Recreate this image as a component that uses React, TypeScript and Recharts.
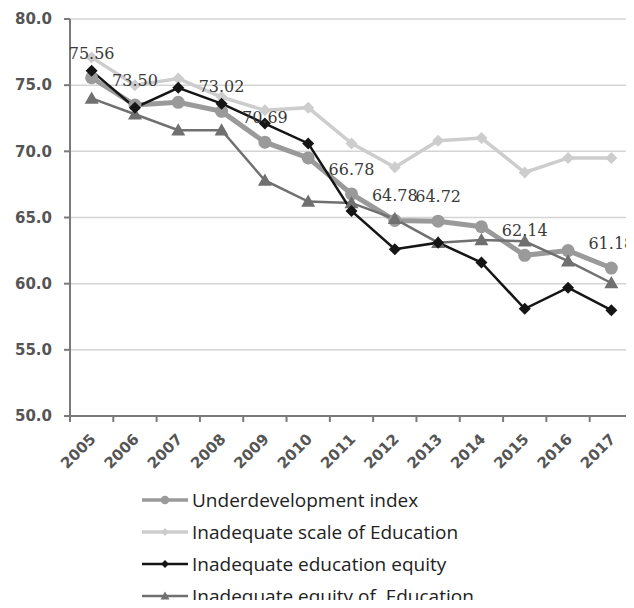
import React from 'react'
import {
  LineChart,
  Line,
  XAxis,
  YAxis,
  CartesianGrid,
  Legend,
  LabelList,
} from 'recharts'

const years = ['2005', '2006', '2007', '2008', '2009', '2010', '2011', '2012', '2013', '2014', '2015', '2016', '2017']
const underdevelopment = [75.56, 73.5, 73.7, 73.02, 70.69, 69.5, 66.78, 64.78, 64.72, 64.3, 62.14, 62.5, 61.18]
const scaleOfEducation = [77.1, 75.0, 75.5, 74.1, 73.1, 73.3, 70.6, 68.8, 70.8, 71.0, 68.4, 69.5, 69.5]
const educationEquity = [76.08, 73.3, 74.8, 73.6, 72.1, 70.6, 65.5, 62.6, 63.1, 61.6, 58.1, 59.7, 58.0]
const equityOfEducation = [74.0, 72.8, 71.6, 71.6, 67.8, 66.2, 66.1, 64.9, 63.1, 63.3, 63.2, 61.7, 60.05]
const labelledYears = ['2005', '2006', '2008', '2009', '2011', '2012', '2013', '2015', '2017']
const yTicks = [50, 55, 60, 65, 70, 75, 80]

const data = years.map((year, i) => ({
  year,
  under: underdevelopment[i],
  scale: scaleOfEducation[i],
  equity: educationEquity[i],
  equityEdu: equityOfEducation[i],
}))

type Shape = 'circle' | 'diamond' | 'triangle'

interface SeriesConfig {
  dataKey: string
  name: string
  color: string
  width: number
  shape: Shape
  size: number
}

// legend order
const series: SeriesConfig[] = [
  { dataKey: 'under', name: 'Underdevelopment index', color: '#9a9a9a', width: 5, shape: 'circle', size: 6.5 },
  { dataKey: 'scale', name: 'Inadequate scale of Education', color: '#cdcdcd', width: 3.5, shape: 'diamond', size: 6 },
  { dataKey: 'equity', name: 'Inadequate education equity', color: '#151515', width: 2.5, shape: 'diamond', size: 6 },
  { dataKey: 'equityEdu', name: 'Inadequate equity of  Education', color: '#707070', width: 2.5, shape: 'triangle', size: 7 },
]
// draw order, back to front
const drawOrder = ['scale', 'under', 'equityEdu', 'equity']

const WIDTH = 634
const HEIGHT = 608
const PLOT_LEFT = 70
const PLOT_RIGHT = 1
const AXIS = '#7a7a7a'

function Marker({ cx, cy, shape, fill, size }: { cx: number; cy: number; shape: Shape; fill: string; size: number }) {
  if (cx == null || cy == null) return null
  if (shape === 'circle') return <circle cx={cx} cy={cy} r={size} fill={fill} />
  if (shape === 'diamond') {
    const s = size
    return <polygon points={`${cx},${cy - s} ${cx + s},${cy} ${cx},${cy + s} ${cx - s},${cy}`} fill={fill} />
  }
  const s = size
  return <polygon points={`${cx},${cy - s} ${cx + s},${cy + s * 0.75} ${cx - s},${cy + s * 0.75}`} fill={fill} />
}

const makeDot = (s: SeriesConfig) => (p: any) => (
  <Marker key={`${s.dataKey}-${p.index}`} cx={p.cx} cy={p.cy} shape={s.shape} fill={s.color} size={s.size} />
)

function XTick(props: any) {
  const { x, y, payload, index } = props
  const band = (WIDTH - PLOT_LEFT - PLOT_RIGHT) / years.length
  return (
    <g>
      <line x1={x - band / 2} y1={y} x2={x - band / 2} y2={y + 6} stroke={AXIS} strokeWidth={2} />
      {index === years.length - 1 && (
        <line x1={x + band / 2} y1={y} x2={x + band / 2} y2={y + 6} stroke={AXIS} strokeWidth={2} />
      )}
      <text
        x={x + 5}
        y={y + 24}
        textAnchor="end"
        transform={`rotate(-45 ${x + 5} ${y + 24})`}
        fill="#555"
        fontSize={15}
        fontWeight="bold"
        fontFamily="DejaVu Sans"
      >
        {payload.value}
      </text>
    </g>
  )
}

function ValueLabel(props: any) {
  const { x, y, value, index } = props
  if (!labelledYears.includes(years[index])) return null
  return (
    <text x={x} y={y - 19} textAnchor="middle" fill="#3a3a3a" fontSize={16} fontFamily="DejaVu Serif">
      {Number(value).toFixed(2)}
    </text>
  )
}

function LegendIcon({ s }: { s: SeriesConfig }) {
  return (
    <svg width={46} height={20} style={{ display: 'block' }}>
      <line x1={0} y1={10} x2={46} y2={10} stroke={s.color} strokeWidth={Math.min(s.width, 3.5)} />
      <Marker cx={23} cy={10} shape={s.shape} fill={s.color} size={s.size * 0.65} />
    </svg>
  )
}

function renderLegend() {
  return (
    <div style={{ height: 128, paddingTop: 4, paddingLeft: 142, boxSizing: 'border-box' }}>
      {series.map((s) => (
        <div key={s.dataKey} style={{ display: 'flex', alignItems: 'center', height: 32 }}>
          <LegendIcon s={s} />
          <span
            style={{
              marginLeft: 4,
              fontFamily: '"Open Sans"',
              fontSize: 19,
              color: '#222',
              whiteSpace: 'pre',
            }}
          >
            {s.name}
          </span>
        </div>
      ))}
    </div>
  )
}

export default function App() {
  return (
    <div style={{ margin: -8, width: WIDTH, height: HEIGHT, background: '#fff', overflow: 'hidden' }}>
      <LineChart width={WIDTH} height={HEIGHT} data={data} margin={{ top: 19, right: PLOT_RIGHT, left: 0, bottom: 0 }}>
        <CartesianGrid vertical={false} stroke="#d4d4d4" strokeWidth={1.5} />
        <XAxis
          dataKey="year"
          scale="band"
          height={64}
          interval={0}
          tickLine={false}
          tickSize={0}
          tickMargin={0}
          axisLine={{ stroke: AXIS, strokeWidth: 2 }}
          tick={<XTick />}
        />
        <YAxis
          width={PLOT_LEFT}
          domain={[50, 80]}
          ticks={yTicks}
          tickFormatter={(v: number) => v.toFixed(1)}
          tick={{ fill: '#555', fontSize: 15, fontWeight: 'bold', fontFamily: 'DejaVu Sans' }}
          tickSize={6}
          tickMargin={12}
          tickLine={{ stroke: AXIS, strokeWidth: 2 }}
          axisLine={{ stroke: AXIS, strokeWidth: 2 }}
        />
        <Legend verticalAlign="bottom" content={renderLegend} />
        {drawOrder.map((key) => {
          const s = series.find((c) => c.dataKey === key)!
          return (
            <Line
              key={s.dataKey}
              type="linear"
              dataKey={s.dataKey}
              name={s.name}
              stroke={s.color}
              strokeWidth={s.width}
              dot={makeDot(s)}
              activeDot={false}
              isAnimationActive={false}
            >
              {s.dataKey === 'under' && <LabelList dataKey="under" content={<ValueLabel />} />}
            </Line>
          )
        })}
      </LineChart>
    </div>
  )
}
